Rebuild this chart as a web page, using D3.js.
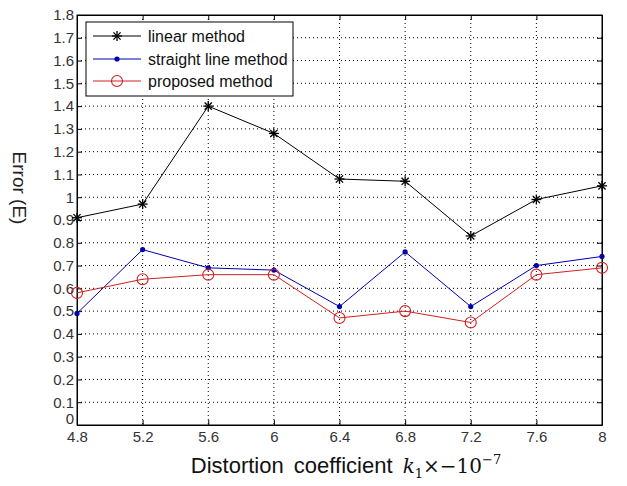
<!DOCTYPE html>
<html><head><meta charset="utf-8">
<script src="https://cdn.jsdelivr.net/npm/d3@7"></script>
<style>body{margin:0;background:#fff}svg{display:block}</style>
</head><body>
<svg id="c" width="627" height="486"></svg>
<script>
const xValues = [4.8, 5.2, 5.6, 6.0, 6.4, 6.8, 7.2, 7.6, 8.0];
const linearMethod = [0.91, 0.97, 1.40, 1.28, 1.08, 1.07, 0.83, 0.99, 1.05];
const straightLineMethod = [0.49, 0.77, 0.69, 0.68, 0.52, 0.76, 0.52, 0.70, 0.74];
const proposedMethod = [0.58, 0.64, 0.66, 0.66, 0.47, 0.50, 0.45, 0.66, 0.69];
const xTicks = [4.8, 5.2, 5.6, 6, 6.4, 6.8, 7.2, 7.6, 8];
const yTicks = [0,0.1,0.2,0.3,0.4,0.5,0.6,0.7,0.8,0.9,1,1.1,1.2,1.3,1.4,1.5,1.6,1.7,1.8];
const seriesNames = ["linear method", "straight line method", "proposed method"];

const L = 77, R = 602, T = 15, B = 425;
const FONT = "Liberation Sans Narrow, Liberation Sans, Arial, sans-serif";
const svg = d3.select("#c");
const x = d3.scaleLinear().domain([4.8, 8]).range([L, R]);
const y = d3.scaleLinear().domain([0, 1.8]).range([B, T]);

// grid
const g = svg.append("g");
xTicks.slice(1, -1).forEach(t => g.append("line").attr("x1", x(t)).attr("x2", x(t)).attr("y1", T).attr("y2", B)
  .attr("stroke", "#000").attr("stroke-width", 1).attr("stroke-dasharray", "1,3"));
yTicks.slice(1, -1).forEach(t => g.append("line").attr("x1", L).attr("x2", R).attr("y1", y(t)).attr("y2", y(t))
  .attr("stroke", "#000").attr("stroke-width", 1).attr("stroke-dasharray", "1,3"));

// axes
const fmt = d => String(+d.toFixed(1));
const ax = svg.append("g").attr("transform", `translate(0,${B})`)
  .call(d3.axisBottom(x).tickValues(xTicks).tickFormat(fmt).tickSizeInner(-5).tickSizeOuter(0).tickPadding(5));
const ay = svg.append("g").attr("transform", `translate(${L},0)`)
  .call(d3.axisLeft(y).tickValues(yTicks).tickFormat(fmt).tickSizeInner(-5).tickSizeOuter(0).tickPadding(3));
const axT = svg.append("g").attr("transform", `translate(0,${T})`)
  .call(d3.axisTop(x).tickValues(xTicks).tickFormat("").tickSizeInner(-5).tickSizeOuter(0));
const ayR = svg.append("g").attr("transform", `translate(${R},0)`)
  .call(d3.axisRight(y).tickValues(yTicks).tickFormat("").tickSizeInner(-5).tickSizeOuter(0));
[ax, ay, axT, ayR].forEach(a => {
  a.selectAll("path").attr("stroke", "#000");
  a.selectAll("line").attr("stroke", "#000");
  a.selectAll("text").attr("font-family", FONT).attr("font-size", 15).attr("fill", "#333");
});
ax.selectAll("text").attr("dy", "0.78em");
ay.selectAll(".tick").filter(d => d === 0).select("text").attr("dy", "-0.1em");
svg.append("rect").attr("x", L).attr("y", T).attr("width", R - L).attr("height", B - T)
  .attr("fill", "none").attr("stroke", "#000").attr("stroke-width", 1);

// series
const line = d3.line().x(d => x(d[0])).y(d => y(d[1]));
const series = [
  {vals: linearMethod, color: "#000", marker: "star"},
  {vals: straightLineMethod, color: "#0000b0", marker: "dot"},
  {vals: proposedMethod, color: "#d02020", marker: "circle"}
];
function drawMarker(sel, type, color, cx, cy) {
  if (type === "star") {
    const s = 5;
    const p = sel.append("g").attr("stroke", color).attr("stroke-width", 1.3);
    p.append("line").attr("x1", cx - s).attr("x2", cx + s).attr("y1", cy).attr("y2", cy);
    p.append("line").attr("x1", cx).attr("x2", cx).attr("y1", cy - s).attr("y2", cy + s);
    p.append("line").attr("x1", cx - 3.6).attr("x2", cx + 3.6).attr("y1", cy - 3.6).attr("y2", cy + 3.6);
    p.append("line").attr("x1", cx - 3.6).attr("x2", cx + 3.6).attr("y1", cy + 3.6).attr("y2", cy - 3.6);
  } else if (type === "dot") {
    sel.append("circle").attr("cx", cx).attr("cy", cy).attr("r", 2.6).attr("fill", color);
  } else {
    sel.append("circle").attr("cx", cx).attr("cy", cy).attr("r", 5.5).attr("fill", "none").attr("stroke", color).attr("stroke-width", 1.1);
  }
}
series.forEach(s => {
  const data = xValues.map((v, i) => [v, s.vals[i]]);
  svg.append("path").datum(data).attr("d", line).attr("fill", "none").attr("stroke", s.color).attr("stroke-width", 1);
  const mg = svg.append("g");
  data.forEach(d => drawMarker(mg, s.marker, s.color, x(d[0]), y(d[1])));
});

// legend
const lg = svg.append("g");
lg.append("rect").attr("x", 86).attr("y", 22).attr("width", 207).attr("height", 74)
  .attr("fill", "#fff").attr("stroke", "#000").attr("stroke-width", 1);
const rowsY = [36, 59, 81];
series.forEach((s, i) => {
  lg.append("line").attr("x1", 93).attr("x2", 141).attr("y1", rowsY[i]).attr("y2", rowsY[i]).attr("stroke", s.color).attr("stroke-width", 1);
  drawMarker(lg, s.marker, s.color, 117, rowsY[i]);
  lg.append("text").attr("x", 148).attr("y", rowsY[i]).attr("dy", "0.35em")
    .attr("font-family", FONT).attr("font-size", 16).attr("fill", "#111")
    .text(seriesNames[i]);
});

// x label
const xl = svg.append("text").attr("x", 346).attr("y", 473).attr("text-anchor", "middle")
  .attr("font-family", FONT).attr("font-size", 22).attr("fill", "#111");
xl.append("tspan").attr("word-spacing", 4).text("Distortion coefficient  ");
xl.append("tspan").attr("font-family", "DejaVu Serif, serif").attr("font-size", 20).attr("font-style", "italic").text("k");
xl.append("tspan").attr("font-family", "DejaVu Serif, serif").attr("font-size", 13).attr("dy", 5).text("1");
xl.append("tspan").attr("font-family", "DejaVu Serif, serif").attr("font-size", 20).attr("dy", -5).text("×−10");
xl.append("tspan").attr("font-family", "DejaVu Serif, serif").attr("font-size", 13).attr("dy", -9).text("−7");

// y label
svg.append("text").attr("transform", "translate(13,188) rotate(90)").attr("text-anchor", "middle")
  .attr("font-family", FONT).attr("font-size", 19).attr("fill", "#222")
  .text("Error (E)");
</script>
</body></html>
